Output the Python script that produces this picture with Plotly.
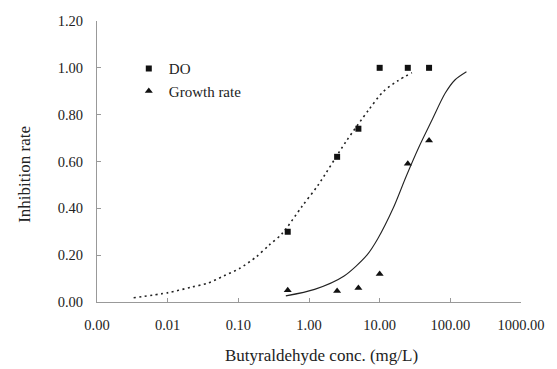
import plotly.graph_objects as go

# Measured data points
do_x = [0.5, 2.5, 5, 10, 25, 50]
do_y = [0.30, 0.62, 0.74, 1.00, 1.00, 1.00]
gr_x = [0.5, 2.5, 5, 10, 25, 50]
gr_y = [0.05, 0.047, 0.06, 0.12, 0.59, 0.69]

# Fitted curves
do_fit_x = [0.0033, 0.0102, 0.0214, 0.0365, 0.062, 0.105, 0.179, 0.273, 0.419,
            0.79, 1.35, 3.32, 6.98, 11.2, 18.1, 28.6]
do_fit_y = [0.018, 0.040, 0.063, 0.080, 0.111, 0.144, 0.193, 0.243, 0.293,
            0.407, 0.500, 0.684, 0.820, 0.898, 0.945, 0.979]
gr_fit_x = [0.47, 1.2, 3.1, 6.6, 9.4, 15.5, 23.6, 36.1, 55, 84, 116, 169]
gr_fit_y = [0.026, 0.054, 0.11, 0.20, 0.27, 0.40, 0.535, 0.663, 0.777, 0.89, 0.948, 0.983]

x_tickvals = [0.001, 0.01, 0.1, 1, 10, 100, 1000]
x_ticktext = ["0.00", "0.01", "0.10", "1.00", "10.00", "100.00", "1000.00"]
y_tickvals = [0, 0.2, 0.4, 0.6, 0.8, 1.0, 1.2]

FONT = "Liberation Serif, Times New Roman, serif"

fig = go.Figure()
fig.add_trace(go.Scatter(x=do_fit_x, y=do_fit_y, mode="lines", showlegend=False,
                         line=dict(color="#222222", width=1.6, dash="2px,3.5px", shape="spline",
                                   smoothing=0.8)))
fig.add_trace(go.Scatter(x=gr_fit_x, y=gr_fit_y, mode="lines", showlegend=False,
                         line=dict(color="#222222", width=1.1, shape="spline", smoothing=0.8)))
fig.add_trace(go.Scatter(x=do_x, y=do_y, mode="markers", name="DO",
                         marker=dict(symbol="square", size=6, color="#111111")))
fig.add_trace(go.Scatter(x=gr_x, y=gr_y, mode="markers", name="Growth rate",
                         marker=dict(symbol="triangle-up", size=7, color="#111111")))

fig.update_layout(
    width=557, height=369,
    margin=dict(l=97, r=26, t=21, b=67),
    paper_bgcolor="white", plot_bgcolor="white",
    font=dict(family=FONT, size=14, color="#222222"),
    legend=dict(x=0.075, y=0.889, xanchor="left", yanchor="top",
                font=dict(family=FONT, size=15), bgcolor="rgba(0,0,0,0)",
                itemwidth=30, tracegroupgap=0),
    xaxis=dict(type="log", range=[-3, 3], tickvals=x_tickvals, ticktext=x_ticktext,
               showgrid=False, zeroline=False, showline=True, linecolor="#999999", linewidth=1,
               ticks="inside", ticklen=4, tickcolor="#999999",
               ticklabelstandoff=10, tickfont=dict(family=FONT, size=14.5)),
    yaxis=dict(range=[0, 1.2], tickvals=y_tickvals, tickformat=".2f",
               showgrid=False, zeroline=False, showline=True, linecolor="#999999", linewidth=1,
               ticks="inside", ticklen=4, tickcolor="#999999",
               ticklabelstandoff=10, tickfont=dict(family=FONT, size=14.5)),
    annotations=[
        dict(text="Butyraldehyde conc. (mg/L)", xref="paper", yref="paper",
             x=0.529, y=-0.189, xanchor="center", yanchor="middle", showarrow=False,
             font=dict(family=FONT, size=17)),
        dict(text="Inhibition rate", xref="paper", yref="paper",
             x=-0.173, y=0.455, xanchor="center", yanchor="middle", showarrow=False,
             textangle=-90, font=dict(family=FONT, size=17)),
    ],
)

fig.write_html("out.html")
